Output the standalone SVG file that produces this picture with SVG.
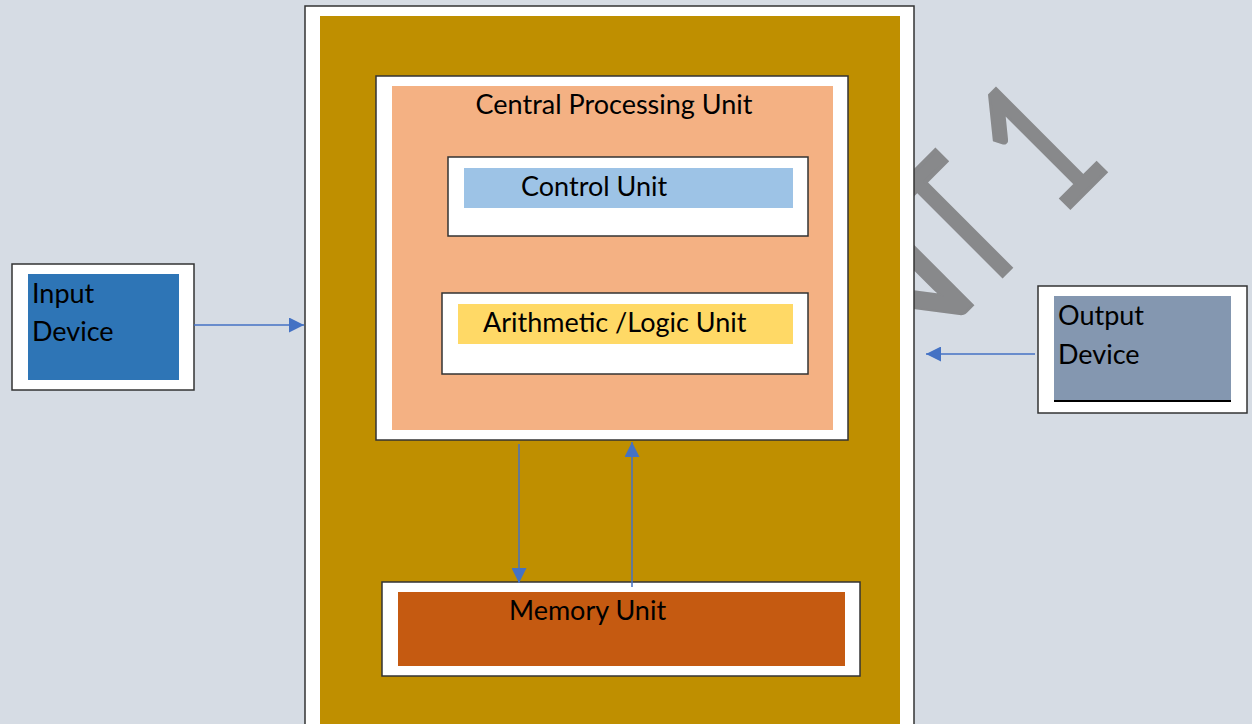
<svg xmlns="http://www.w3.org/2000/svg" width="1252" height="724" viewBox="0 0 1252 724">
<defs>
<style>
.frame{fill:#ffffff;stroke:#333333;stroke-width:1.5}
.lbl{font-family:Lato,"Open Sans","Liberation Sans",sans-serif;font-size:27px;fill:#000000}
.wire{stroke:#4472c4;stroke-width:1.5;fill:none}
.wm{font-family:Lato,"Open Sans","Liberation Sans",sans-serif;font-size:190px;fill:#88898b;stroke:#88898b;stroke-width:2}
</style>
<marker id="ah" markerWidth="15" markerHeight="15" refX="15" refY="7.5" orient="auto" markerUnits="userSpaceOnUse">
<path d="M0,0 L15,7.5 L0,15 Z" fill="#4472c4"/>
</marker>
</defs>
<rect width="1252" height="724" fill="#d6dce4"/>
<g id="watermark" transform="translate(1116,155) rotate(-45) translate(0,5)">
<text class="wm" x="-335" y="0">N</text>
<text class="wm" transform="translate(-160,0) scale(0.68,1)" text-anchor="middle" style="stroke-width:4">T</text>
<text class="wm" transform="translate(-46,0) scale(0.7,1)" x="-58" y="0" style="stroke-width:3.5">1</text>
</g>
<g id="computer">
<rect class="frame" x="305" y="6" width="609" height="730"/>
<rect x="320" y="16" width="580" height="720" fill="#bf8f00"/>
</g>
<g id="cpu">
<rect class="frame" x="376" y="76" width="472" height="364"/>
<rect x="392" y="86" width="441" height="344" fill="#f4b183"/>
<text class="lbl" x="614" y="114" text-anchor="middle">Central Processing Unit</text>
</g>
<g id="control-unit">
<rect class="frame" x="448" y="157" width="360" height="79"/>
<rect x="464" y="168" width="329" height="40" fill="#9dc3e6"/>
<text class="lbl" x="521" y="196">Control Unit</text>
</g>
<g id="alu">
<rect class="frame" x="442" y="293" width="366" height="81"/>
<rect x="458" y="304" width="335" height="40" fill="#ffd966"/>
<text class="lbl" x="483" y="332">Arithmetic /Logic Unit</text>
</g>
<g id="memory-unit">
<rect class="frame" x="382" y="582" width="478" height="94"/>
<rect x="398" y="592" width="447" height="74" fill="#c55a11"/>
<text class="lbl" x="509" y="620">Memory Unit</text>
</g>
<g id="input-device">
<rect class="frame" x="12" y="264" width="182" height="126"/>
<rect x="28" y="274" width="151" height="106" fill="#2e75b6"/>
<text class="lbl" x="32" y="303">Input</text>
<text class="lbl" x="32" y="341">Device</text>
</g>
<g id="output-device">
<rect class="frame" x="1038" y="286" width="209" height="127"/>
<rect x="1054" y="296" width="177" height="105" fill="#8497b0"/>
<line x1="1054" y1="401" x2="1231" y2="401" stroke="#000000" stroke-width="2"/>
<text class="lbl" x="1058" y="325">Output</text>
<text class="lbl" x="1058" y="364">Device</text>
</g>
<g id="connectors">
<line class="wire" x1="194" y1="325" x2="304" y2="325" marker-end="url(#ah)"/>
<line class="wire" x1="1035" y1="354" x2="926" y2="354" marker-end="url(#ah)"/>
<line class="wire" x1="519" y1="444" x2="519" y2="583" marker-end="url(#ah)"/>
<line class="wire" x1="632" y1="587" x2="632" y2="442" marker-end="url(#ah)"/>
</g>
</svg>
